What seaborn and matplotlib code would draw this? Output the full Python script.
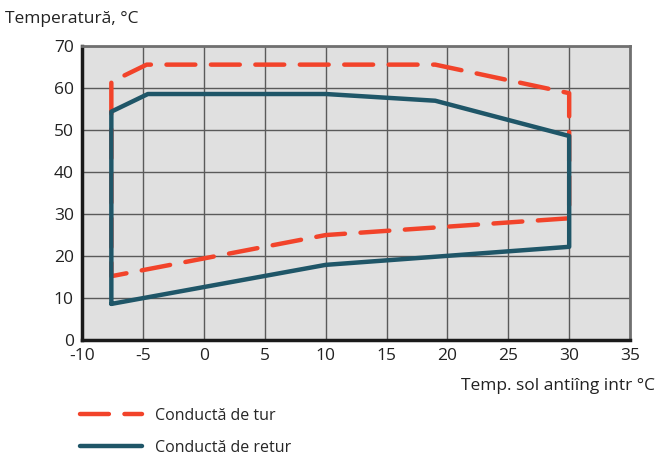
import matplotlib
matplotlib.use("Agg")
import matplotlib.pyplot as plt
import seaborn as sns
import pandas as pd

# supply line (tur) - closed operating envelope
tur_x = [-7.6, -7.6, -4.7, 19, 30, 30, 10, -7.6, -7.6]
tur_y = [54.4, 61.5, 65.6, 65.6, 58.8, 29.0, 25.0, 15.2, 54.4]

# return line (retur)
retur_x = [-7.6, -7.6, -4.6, 10, 19, 30, 30, 10, -7.6]
retur_y = [8.6, 54.4, 58.6, 58.6, 57.0, 48.6, 22.2, 17.9, 8.6]

x_ticks = [-10, -5, 0, 5, 10, 15, 20, 25, 30, 35]
y_ticks = [0, 10, 20, 30, 40, 50, 60, 70]

red = "#f2432a"
teal = "#1f5668"

sns.set_style("white")
plt.rcParams['font.family'] = ['Open Sans', 'DejaVu Sans']
plt.rcParams['axes.unicode_minus'] = False

df_tur = pd.DataFrame({"x": tur_x, "y": tur_y})
df_retur = pd.DataFrame({"x": retur_x, "y": retur_y})

fig = plt.figure(figsize=(6.57, 4.57), dpi=100)
ax = fig.add_axes([0.125, 0.256, 0.834, 0.643])
ax.set_facecolor("#e0e0e0")

sns.lineplot(data=df_tur, x="x", y="y", sort=False, estimator=None, ax=ax,
             color=red, linewidth=3.2, label="Conductă de tur")
ax.lines[-1].set_dashes([6.5, 3.5])
ax.lines[-1].set_dash_capstyle("round")
sns.lineplot(data=df_retur, x="x", y="y", sort=False, estimator=None, ax=ax,
             color=teal, linewidth=3.2, label="Conductă de retur")
ax.lines[-1].set_solid_capstyle("round")
ax.lines[-1].set_solid_joinstyle("round")

ax.set_xlim(-10, 35)
ax.set_ylim(0, 70)
ax.set_xticks(x_ticks)
ax.set_yticks(y_ticks)
ax.grid(True, color="#5a5a5a", linewidth=1.0)
ax.set_axisbelow(True)
ax.tick_params(axis="both", labelsize=12.5, labelcolor="#222222", color="#777777",
               length=4, width=1, direction="out", pad=2)

for s in ["left", "bottom"]:
    ax.spines[s].set_color("#1a1a1a")
    ax.spines[s].set_linewidth(2.5)
for s in ["top", "right"]:
    ax.spines[s].set_color("#707070")
    ax.spines[s].set_linewidth(2)

ax.set_xlabel("")
ax.set_ylabel("")
fig.text(0.008, 0.958, "Temperatură, °C", fontsize=12.5, color="#222222",
         ha="left", va="center")
fig.text(0.997, 0.156, "Temp. sol antiîng intr °C", fontsize=12.5, color="#222222",
         ha="right", va="center")

handles, labels = ax.get_legend_handles_labels()
ax.legend_.remove()
fig.legend(handles, labels, loc="upper left", bbox_to_anchor=(0.112, 0.122),
           frameon=False, fontsize=11.5, handlelength=3.9, handletextpad=0.8,
           labelspacing=1.0, borderaxespad=0)

fig.savefig("out.png", dpi=100)
